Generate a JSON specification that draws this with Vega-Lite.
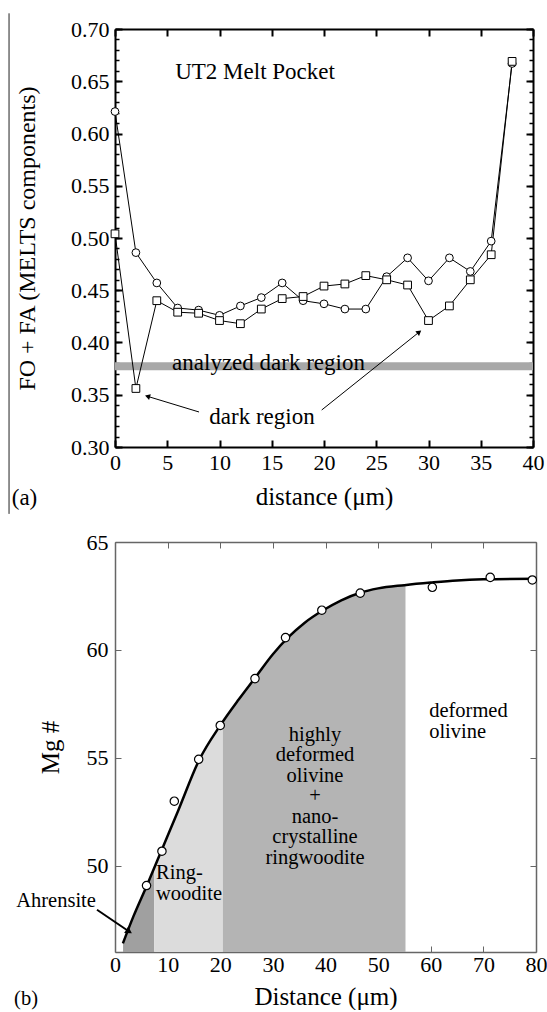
{
  "$schema": "https://vega.github.io/schema/vega-lite/v6.json",
  "padding": {"left": 8, "top": 12, "right": 5, "bottom": 0},
  "spacing": 16,
  "config": {
    "font": "Liberation Serif",
    "view": {"stroke": null},
    "text": {"font": "Liberation Serif"},
    "axis": {"labelFont": "Liberation Serif", "titleFont": "Liberation Serif", "labelFontSize": 22, "titleFontSize": 24, "titleFontWeight": "normal", "labelColor": "black", "titleColor": "black", "grid": false, "labelFlush": false, "labelOverlap": false}
  },
  "datasets": {
    "top": [
      {"d": 0, "v": 0.621, "s": "c"}, {"d": 2, "v": 0.486, "s": "c"}, {"d": 4, "v": 0.457, "s": "c"}, {"d": 6, "v": 0.433, "s": "c"},
      {"d": 8, "v": 0.431, "s": "c"}, {"d": 10, "v": 0.426, "s": "c"}, {"d": 12, "v": 0.435, "s": "c"}, {"d": 14, "v": 0.443, "s": "c"},
      {"d": 16, "v": 0.457, "s": "c"}, {"d": 18, "v": 0.440, "s": "c"}, {"d": 20, "v": 0.437, "s": "c"}, {"d": 22, "v": 0.432, "s": "c"},
      {"d": 24, "v": 0.432, "s": "c"}, {"d": 26, "v": 0.463, "s": "c"}, {"d": 28, "v": 0.481, "s": "c"}, {"d": 30, "v": 0.459, "s": "c"},
      {"d": 32, "v": 0.481, "s": "c"}, {"d": 34, "v": 0.468, "s": "c"}, {"d": 36, "v": 0.497, "s": "c"}, {"d": 38, "v": 0.667, "s": "c"},
      {"d": 0, "v": 0.504, "s": "q"}, {"d": 2, "v": 0.356, "s": "q"}, {"d": 4, "v": 0.440, "s": "q"}, {"d": 6, "v": 0.429, "s": "q"},
      {"d": 8, "v": 0.428, "s": "q"}, {"d": 10, "v": 0.421, "s": "q"}, {"d": 12, "v": 0.418, "s": "q"}, {"d": 14, "v": 0.432, "s": "q"},
      {"d": 16, "v": 0.442, "s": "q"}, {"d": 18, "v": 0.444, "s": "q"}, {"d": 20, "v": 0.454, "s": "q"}, {"d": 22, "v": 0.456, "s": "q"},
      {"d": 24, "v": 0.464, "s": "q"}, {"d": 26, "v": 0.460, "s": "q"}, {"d": 28, "v": 0.455, "s": "q"}, {"d": 30, "v": 0.421, "s": "q"},
      {"d": 32, "v": 0.435, "s": "q"}, {"d": 34, "v": 0.460, "s": "q"}, {"d": 36, "v": 0.484, "s": "q"}, {"d": 38, "v": 0.669, "s": "q"}
    ],
    "band": [{"x0": 0, "x1": 40, "y0": 0.3735, "y1": 0.381}],
    "frame": [{"x": -10.14, "y": 0.715, "y2": 0.236}],
    "topText": [
      {"x": 13.4, "y": 0.6584, "t": "UT2 Melt Pocket"},
      {"x": 14.69, "y": 0.380, "t": "analyzed dark region"},
      {"x": 14.07, "y": 0.329, "t": "dark region"},
      {"x": -8.66, "y": 0.251, "t": "(a)"}
    ],
    "topArrows": [
      {"x": 8.04, "y": 0.3335, "x2": 3.11, "y2": 0.3485, "a": 287},
      {"x": 19.78, "y": 0.3354, "x2": 29.11, "y2": 0.410, "a": 51.5}
    ],
    "pts": [
      {"x": 5.99, "y": 49.08}, {"x": 8.92, "y": 50.67}, {"x": 11.27, "y": 52.99}, {"x": 15.9, "y": 54.93},
      {"x": 20.0, "y": 56.5}, {"x": 26.6, "y": 58.67}, {"x": 32.4, "y": 60.57}, {"x": 39.3, "y": 61.84},
      {"x": 46.6, "y": 62.63}, {"x": 60.3, "y": 62.9}, {"x": 71.3, "y": 63.36}, {"x": 79.3, "y": 63.24}
    ],
    "curve": [
      {"x": 1.5, "y": 46.4}, {"x": 3.5, "y": 47.65}, {"x": 6, "y": 49.05}, {"x": 9, "y": 50.8}, {"x": 12, "y": 52.55},
      {"x": 16, "y": 54.9}, {"x": 20, "y": 56.5}, {"x": 23.5, "y": 57.7}, {"x": 26.6, "y": 58.7}, {"x": 30, "y": 59.8},
      {"x": 33, "y": 60.6}, {"x": 36, "y": 61.25}, {"x": 39.3, "y": 61.8}, {"x": 43, "y": 62.3}, {"x": 46.6, "y": 62.65},
      {"x": 50, "y": 62.85}, {"x": 55, "y": 63.0}, {"x": 60, "y": 63.12}, {"x": 65, "y": 63.22}, {"x": 70, "y": 63.27}, {"x": 80, "y": 63.3}
    ],
    "shade": [
      {"r": "a", "x": 1.53, "y": 46.42}, {"r": "a", "x": 3.5, "y": 47.65}, {"r": "a", "x": 6, "y": 49.05}, {"r": "a", "x": 7.46, "y": 49.9},
      {"r": "b", "x": 7.46, "y": 49.9}, {"r": "b", "x": 9, "y": 50.8}, {"r": "b", "x": 12, "y": 52.55}, {"r": "b", "x": 16, "y": 54.9},
      {"r": "b", "x": 20, "y": 56.5}, {"r": "b", "x": 20.5, "y": 56.65},
      {"r": "c", "x": 20.5, "y": 56.65}, {"r": "c", "x": 23.5, "y": 57.7}, {"r": "c", "x": 26.6, "y": 58.7}, {"r": "c", "x": 30, "y": 59.8},
      {"r": "c", "x": 33, "y": 60.6}, {"r": "c", "x": 36, "y": 61.25}, {"r": "c", "x": 39.3, "y": 61.8}, {"r": "c", "x": 43, "y": 62.3},
      {"r": "c", "x": 46.6, "y": 62.65}, {"r": "c", "x": 50, "y": 62.85}, {"r": "c", "x": 55.2, "y": 63.0}
    ],
    "botTextC": [
      {"x": 38.0, "y": 56.53, "t": "highly\ndeformed\nolivine\n+\nnano-\ncrystalline\nringwoodite"},
      {"x": -11.2, "y": 48.81, "t": "Ahrensite"},
      {"x": -16.9, "y": 44.3, "t": "(b)"}
    ],
    "botTextL": [
      {"x": 7.8, "y": 50.11, "t": "Ring-\nwoodite"},
      {"x": 59.7, "y": 57.62, "t": "deformed\nolivine"}
    ],
    "botArrow": [{"x": -3.42, "y": 47.96, "x2": 2.67, "y2": 46.95, "a": 122}]
  },
  "vconcat": [
    {
      "width": 418,
      "height": 418,
      "resolve": {"axis": {"x": "independent", "y": "independent"}},
      "layer": [
        {
          "data": {"name": "band"},
          "mark": {"type": "rect", "color": "#a8a8a8"},
          "encoding": {
            "x": {"field": "x0", "type": "quantitative", "scale": {"domain": [0, 40], "nice": false, "zero": false},
              "axis": {"orient": "bottom", "title": "distance (μm)", "values": [0, 5, 10, 15, 20, 25, 30, 35, 40], "labelFont": "Liberation Serif", "titleFont": "Liberation Serif", "tickSize": -7, "tickWidth": 2, "tickColor": "black", "domainColor": "black", "domainWidth": 2, "labelPadding": 12, "titlePadding": 11, "titleFontSize": 25}},
            "x2": {"field": "x1"},
            "y": {"field": "y0", "type": "quantitative", "scale": {"domain": [0.3, 0.7], "nice": false, "zero": false},
              "axis": {"orient": "left", "title": "FO + FA (MELTS components)", "values": [0.3, 0.35, 0.4, 0.45, 0.5, 0.55, 0.6, 0.65, 0.7], "format": ".2f", "labelFont": "Liberation Serif", "titleFont": "Liberation Serif", "tickSize": -7, "tickWidth": 2, "tickColor": "black", "domainColor": "black", "domainWidth": 2, "labelPadding": 13, "titlePadding": 31, "titleFontSize": 24}},
            "y2": {"field": "y1"}
          }
        },
        {
          "data": {"name": "top"},
          "mark": {"type": "line", "color": "black", "strokeWidth": 1},
          "encoding": {
            "x": {"field": "d", "type": "quantitative",
              "axis": {"orient": "top", "labels": false, "title": null, "values": [0, 5, 10, 15, 20, 25, 30, 35, 40], "tickSize": -7, "tickWidth": 2, "tickColor": "black", "domainColor": "black", "domainWidth": 2}},
            "y": {"field": "v", "type": "quantitative",
              "axis": {"orient": "left", "labels": false, "title": null, "domain": false, "values": [0.3,0.31,0.32,0.33,0.34,0.35,0.36,0.37,0.38,0.39,0.4,0.41,0.42,0.43,0.44,0.45,0.46,0.47,0.48,0.49,0.5,0.51,0.52,0.53,0.54,0.55,0.56,0.57,0.58,0.59,0.6,0.61,0.62,0.63,0.64,0.65,0.66,0.67,0.68,0.69,0.7], "tickSize": -4, "tickWidth": 1.5, "tickColor": "black"}},
            "detail": {"field": "s", "type": "nominal"}
          }
        },
        {
          "data": {"name": "top"},
          "mark": {"type": "point", "filled": true, "fill": "white", "stroke": "black", "strokeWidth": 1, "size": 60, "opacity": 1},
          "encoding": {
            "x": {"field": "d", "type": "quantitative", "axis": null},
            "y": {"field": "v", "type": "quantitative",
              "axis": {"orient": "right", "labels": false, "title": null, "values": [0.3, 0.35, 0.4, 0.45, 0.5, 0.55, 0.6, 0.65, 0.7], "tickSize": -7, "tickWidth": 2, "tickColor": "black", "domainColor": "black", "domainWidth": 2}},
            "shape": {"field": "s", "type": "nominal", "scale": {"domain": ["c", "q"], "range": ["circle", "square"]}, "legend": null}
          }
        },
        {
          "data": {"name": "frame"},
          "mark": {"type": "rule", "color": "#222222", "strokeWidth": 1},
          "encoding": {
            "x": {"field": "x", "type": "quantitative", "axis": null},
            "y": {"field": "y", "type": "quantitative",
              "axis": {"orient": "right", "labels": false, "title": null, "domain": false, "values": [0.3,0.31,0.32,0.33,0.34,0.35,0.36,0.37,0.38,0.39,0.4,0.41,0.42,0.43,0.44,0.45,0.46,0.47,0.48,0.49,0.5,0.51,0.52,0.53,0.54,0.55,0.56,0.57,0.58,0.59,0.6,0.61,0.62,0.63,0.64,0.65,0.66,0.67,0.68,0.69,0.7], "tickSize": -4, "tickWidth": 1.5, "tickColor": "black"}},
            "y2": {"field": "y2"}
          }
        },
        {
          "data": {"name": "topArrows"},
          "mark": {"type": "rule", "color": "black", "strokeWidth": 1},
          "encoding": {
            "x": {"field": "x", "type": "quantitative", "axis": null},
            "y": {"field": "y", "type": "quantitative", "axis": null},
            "x2": {"field": "x2"},
            "y2": {"field": "y2"}
          }
        },
        {
          "data": {"name": "topArrows"},
          "mark": {"type": "point", "shape": "triangle-up", "filled": true, "color": "black", "size": 35, "opacity": 1},
          "encoding": {
            "x": {"field": "x2", "type": "quantitative", "axis": null},
            "y": {"field": "y2", "type": "quantitative", "axis": null},
            "angle": {"field": "a", "type": "quantitative", "scale": null}
          }
        },
        {
          "data": {"name": "topText"},
          "mark": {"type": "text", "font": "Liberation Serif", "fontSize": 23, "align": "center", "baseline": "middle", "color": "black"},
          "encoding": {
            "x": {"field": "x", "type": "quantitative", "axis": null},
            "y": {"field": "y", "type": "quantitative", "axis": null},
            "text": {"field": "t", "type": "nominal"}
          }
        }
      ]
    },
    {
      "width": 421,
      "height": 410,
      "resolve": {"axis": {"x": "independent", "y": "independent"}},
      "layer": [
        {
          "data": {"name": "shade"},
          "mark": {"type": "area", "interpolate": "monotone", "opacity": 1},
          "encoding": {
            "x": {"field": "x", "type": "quantitative", "scale": {"domain": [0, 80], "nice": false, "zero": false},
              "axis": {"orient": "bottom", "title": "Distance (μm)", "values": [0, 10, 20, 30, 40, 50, 60, 70, 80], "labelFont": "Liberation Serif", "titleFont": "Liberation Serif", "tickSize": -6, "tickWidth": 1, "tickColor": "#666666", "domainColor": "#666666", "domainWidth": 1.5, "labelPadding": 8, "titlePadding": 9, "titleFontSize": 25}},
            "y": {"field": "y", "type": "quantitative", "scale": {"domain": [46, 65], "nice": false, "zero": false},
              "axis": {"orient": "left", "title": "Mg #", "values": [50, 55, 60, 65], "labelFont": "Liberation Serif", "titleFont": "Liberation Serif", "tickSize": -6, "tickWidth": 1, "tickColor": "#666666", "domainColor": "#666666", "domainWidth": 1.5, "labelPadding": 13, "titlePadding": 23, "titleFontSize": 25}},
            "y2": {"datum": 46},
            "color": {"field": "r", "type": "nominal", "scale": {"domain": ["a", "b", "c"], "range": ["#a0a0a0", "#dcdcdc", "#b4b4b4"]}, "legend": null}
          }
        },
        {
          "data": {"name": "curve"},
          "mark": {"type": "line", "interpolate": "monotone", "color": "black", "strokeWidth": 2.5},
          "encoding": {
            "x": {"field": "x", "type": "quantitative",
              "axis": {"orient": "top", "labels": false, "title": null, "values": [0, 10, 20, 30, 40, 50, 60, 70, 80], "tickSize": -6, "tickWidth": 1, "tickColor": "#666666", "domainColor": "#666666", "domainWidth": 1.5}},
            "y": {"field": "y", "type": "quantitative",
              "axis": {"orient": "right", "labels": false, "title": null, "values": [50, 55, 60, 65], "tickSize": -6, "tickWidth": 1, "tickColor": "#666666", "domainColor": "#666666", "domainWidth": 1.5}}
          }
        },
        {
          "data": {"name": "pts"},
          "mark": {"type": "point", "shape": "circle", "filled": true, "fill": "white", "stroke": "black", "strokeWidth": 1.2, "size": 70, "opacity": 1},
          "encoding": {
            "x": {"field": "x", "type": "quantitative", "axis": null},
            "y": {"field": "y", "type": "quantitative", "axis": null}
          }
        },
        {
          "data": {"name": "botArrow"},
          "mark": {"type": "rule", "color": "black", "strokeWidth": 2},
          "encoding": {
            "x": {"field": "x", "type": "quantitative", "axis": null},
            "y": {"field": "y", "type": "quantitative", "axis": null},
            "x2": {"field": "x2"},
            "y2": {"field": "y2"}
          }
        },
        {
          "data": {"name": "botArrow"},
          "mark": {"type": "point", "shape": "triangle-up", "filled": true, "color": "black", "size": 60, "opacity": 1},
          "encoding": {
            "x": {"field": "x2", "type": "quantitative", "axis": null},
            "y": {"field": "y2", "type": "quantitative", "axis": null},
            "angle": {"field": "a", "type": "quantitative", "scale": null}
          }
        },
        {
          "data": {"name": "botTextC"},
          "mark": {"type": "text", "font": "Liberation Serif", "fontSize": 20.5, "align": "center", "baseline": "top", "lineBreak": "\n", "lineHeight": 20.5, "color": "black"},
          "encoding": {
            "x": {"field": "x", "type": "quantitative", "axis": null},
            "y": {"field": "y", "type": "quantitative", "axis": null},
            "text": {"field": "t", "type": "nominal"}
          }
        },
        {
          "data": {"name": "botTextL"},
          "mark": {"type": "text", "font": "Liberation Serif", "fontSize": 20.5, "align": "left", "baseline": "top", "lineBreak": "\n", "lineHeight": 20.5, "color": "black"},
          "encoding": {
            "x": {"field": "x", "type": "quantitative", "axis": null},
            "y": {"field": "y", "type": "quantitative", "axis": null},
            "text": {"field": "t", "type": "nominal"}
          }
        }
      ]
    }
  ]
}
